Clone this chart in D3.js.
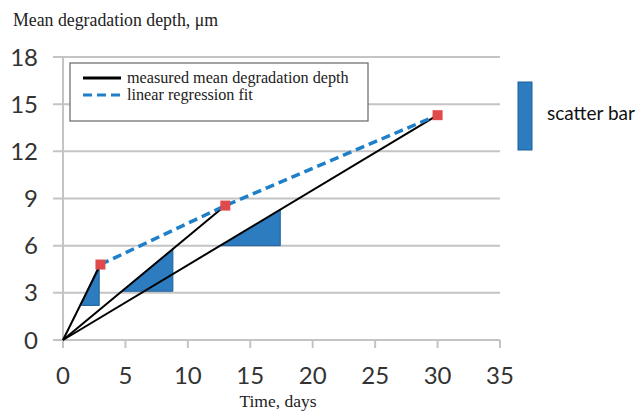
<!DOCTYPE html>
<html>
<head>
<meta charset="utf-8">
<script src="https://cdn.jsdelivr.net/npm/d3@7"></script>
<style>
  html, body { margin: 0; padding: 0; background: #fff; }
  svg { display: block; }
</style>
</head>
<body>
<svg id="chart" width="641" height="412"></svg>
<script>
// Measured mean degradation depth (µm) over time (days)
const days = [0, 3, 13, 30];
const measuredDepth = [0, 4.8, 8.55, 14.3];
// Linear regression fit through the measured points
const fitDays = [3, 13, 30];
const fitDepth = [4.8, 8.55, 14.3];
// Scatter bars: [x start, x end, y low, y high]
const scatterX0 = [1.4, 4.7, 12.7];
const scatterX1 = [2.9, 8.8, 17.4];
const scatterY0 = [2.2, 3.1, 6.0];
const scatterY1 = [4.8, 5.8, 8.3];
const xTicks = [0, 5, 10, 15, 20, 25, 30, 35];
const yTicks = [0, 3, 6, 9, 12, 15, 18];

const svg = d3.select("#chart");
const x = d3.scaleLinear().domain([0, 35]).range([63, 500]);
const y = d3.scaleLinear().domain([0, 18]).range([340, 57]);

const gridColor = "#c4c4c4";
const tickFont = "Lato, 'Open Sans', sans-serif";
const serifFont = "'Liberation Serif', 'DejaVu Serif', serif";

// horizontal gridlines
svg.append("g").selectAll("line").data(yTicks).join("line")
  .attr("x1", 53).attr("x2", x(35))
  .attr("y1", d => y(d)).attr("y2", d => y(d))
  .attr("stroke", gridColor).attr("stroke-width", 2);

// vertical axis line
svg.append("line")
  .attr("x1", x(0)).attr("x2", x(0)).attr("y1", y(18)).attr("y2", y(0))
  .attr("stroke", gridColor).attr("stroke-width", 2);

// x axis ticks
svg.append("g").selectAll("line").data(xTicks).join("line")
  .attr("x1", d => x(d)).attr("x2", d => x(d))
  .attr("y1", y(0)).attr("y2", y(0) + 8)
  .attr("stroke", gridColor).attr("stroke-width", 2);

// tick labels
svg.append("g").selectAll("text").data(yTicks).join("text")
  .attr("x", 38).attr("y", d => y(d)).attr("dy", "0.36em")
  .attr("text-anchor", "end")
  .attr("font-family", tickFont).attr("font-size", 24)
  .attr("fill", "#333")
  .text(d => d);

svg.append("g").selectAll("text").data(xTicks).join("text")
  .attr("x", d => x(d)).attr("y", 384)
  .attr("text-anchor", "middle")
  .attr("font-family", tickFont).attr("font-size", 24)
  .attr("fill", "#333")
  .text(d => d);

// axis titles
svg.append("text")
  .attr("x", 13).attr("y", 26)
  .attr("font-family", serifFont).attr("font-size", 17.8)
  .attr("fill", "#222")
  .text("Mean degradation depth, μm");

svg.append("text")
  .attr("x", 278).attr("y", 407)
  .attr("text-anchor", "middle")
  .attr("font-family", serifFont).attr("font-size", 17.5)
  .attr("fill", "#222")
  .text("Time, days");

// scatter bars (right triangles)
const bars = d3.range(scatterX0.length).map(i => [
  [x(scatterX0[i]), y(scatterY0[i])],
  [x(scatterX1[i]), y(scatterY0[i])],
  [x(scatterX1[i]), y(scatterY1[i])]
]);
svg.append("g").selectAll("path").data(bars).join("path")
  .attr("d", d => "M" + d.join("L") + "Z")
  .attr("fill", "#2d7cc0").attr("stroke", "#1d5f99").attr("stroke-width", 1);

// measured depth: lines from origin to each measured point
const line = d3.line().x(d => x(d[0])).y(d => y(d[1]));
const rays = days.slice(1).map((d, i) => [[0, 0], [d, measuredDepth[i + 1]]]);
svg.append("g").selectAll("path").data(rays).join("path")
  .attr("d", line)
  .attr("fill", "none").attr("stroke", "#000").attr("stroke-width", 2);

// regression fit (dashed)
svg.append("path")
  .attr("d", line(fitDays.map((d, i) => [d, fitDepth[i]])))
  .attr("fill", "none").attr("stroke", "#1f7fc8")
  .attr("stroke-width", 3.5).attr("stroke-dasharray", "9,5");

// measured points
svg.append("g").selectAll("rect").data(fitDays.map((d, i) => [d, fitDepth[i]])).join("rect")
  .attr("x", d => x(d[0]) - 5).attr("y", d => y(d[1]) - 5)
  .attr("width", 10).attr("height", 10)
  .attr("fill", "#e14a4a");

// legend box
const lg = svg.append("g");
lg.append("rect")
  .attr("x", 70).attr("y", 63).attr("width", 298).attr("height", 58)
  .attr("fill", "#fff").attr("stroke", "#666").attr("stroke-width", 1.2);
lg.append("line")
  .attr("x1", 83).attr("x2", 121).attr("y1", 78).attr("y2", 78)
  .attr("stroke", "#000").attr("stroke-width", 3);
lg.append("text")
  .attr("x", 127).attr("y", 83)
  .attr("font-family", serifFont).attr("font-size", 16.2)
  .attr("fill", "#222")
  .text("measured mean degradation depth");
lg.append("line")
  .attr("x1", 83).attr("x2", 121).attr("y1", 95).attr("y2", 95)
  .attr("stroke", "#1f7fc8").attr("stroke-width", 3).attr("stroke-dasharray", "9,5");
lg.append("text")
  .attr("x", 127).attr("y", 100)
  .attr("font-family", serifFont).attr("font-size", 16.2)
  .attr("fill", "#222")
  .text("linear regression fit");

// scatter bar legend
svg.append("rect")
  .attr("x", 518).attr("y", 82).attr("width", 14).attr("height", 68)
  .attr("fill", "#2d7cc0").attr("stroke", "#1d5f99").attr("stroke-width", 1);
svg.append("text")
  .attr("x", 547).attr("y", 120)
  .attr("font-family", tickFont).attr("font-size", 19)
  .attr("fill", "#111")
  .text("scatter bar");
</script>
</body>
</html>
